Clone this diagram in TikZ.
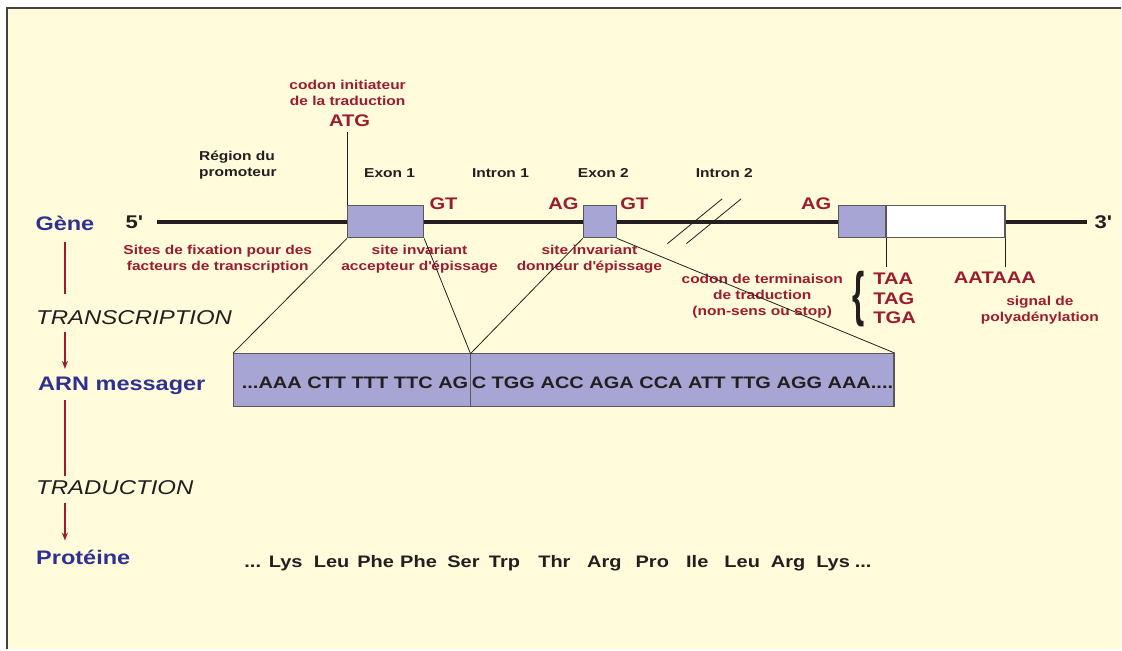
\documentclass[tikz,border=0pt]{standalone}
\usepackage{fontspec}
\setmainfont{Liberation Sans}[FakeStretch=1.2]
\usepackage{xcolor}
\usepackage{graphicx}
\definecolor{cream}{HTML}{FFFBDB}
\definecolor{lilac}{HTML}{A6A5D3}
\definecolor{wine}{HTML}{9B1B2F}
\definecolor{navy}{HTML}{2E3192}
\definecolor{ink}{HTML}{231F20}
\usepackage{tikz}
\usetikzlibrary{arrows.meta, positioning, calc}
\newcommand{\apos}{\textquotesingle}

\begin{document}
\begin{tikzpicture}[x=0.75pt, y=-0.75pt, >={Stealth[length=6pt, width=4.5pt]},
  every node/.style={inner sep=0pt},
  note/.style={font=\fontsize{9.7}{12}\selectfont\bfseries, text=ink, align=center},
  site/.style={font=\fontsize{9.7}{12}\selectfont\bfseries, text=wine, align=center},
  motif/.style={font=\fontsize{12.6}{14}\selectfont\bfseries, text=wine},
  stage/.style={font=\fontsize{14.7}{16}\selectfont\bfseries, text=navy},
  process/.style={font=\fontsize{15}{16}\selectfont\itshape, text=ink, anchor=west},
  seq/.style={font=\fontsize{12.5}{14}\selectfont\bfseries, text=ink},
  strand/.style={font=\fontsize{13.8}{14}\selectfont\bfseries, text=ink},
  exon/.style={draw=ink!75, fill=lilac, line width=0.9pt, minimum height=24pt},
  cut/.style={draw=ink, line width=0.6pt},
  flow/.style={draw=wine, line width=0.9pt}]

  % Cadre
  \fill[white] (0,0) rectangle (1122,650);
  \fill[cream] (7,8) rectangle (1122,650);
  \draw[ink!85, line width=1.8pt] (7,650) -- (7,8) -- (1122,8);
  \useasboundingbox (0,0) rectangle (1122,650);

  % Gène
  \node[strand] (five)  at (134,222) {5\apos};
  \node[strand] (three) at (1104,222) {3\apos};
  \draw[ink, line width=3pt, shorten <=11pt, shorten >=5.5pt] (five.east) -- (three.west);
  \draw[cut] (668,244) -- (723,199);
  \draw[cut] (687,244) -- (742,199);

  \node[exon, minimum width=57pt]    (exon1) at (386,222)   {};
  \node[exon, minimum width=24.75pt] (exon2) at (600.5,222) {};
  \node[exon, minimum width=36pt]    (exon3) at (863,222)   {};
  \node[exon, fill=white, minimum width=89.25pt] (utr) at (946.5,222) {};

  \node[site]  (init) at (348,93)  {codon initiateur\\de la traduction};
  \node[motif] (atg)  at (350,121) {ATG};
  \draw[cut, shorten >=4pt] (exon1.north west) -- (exon1.north west |- atg.south);

  \node[note, align=left, anchor=west] (promo) at (199,165) {Région du\\promoteur};
  \node[note] (ex1) at (390,173) {Exon 1};
  \node[note] (in1) at (501,173) {Intron 1};
  \node[note] (ex2) at (604,173) {Exon 2};
  \node[note] (in2) at (725,173) {Intron 2};
  \node[motif] (gt1) at (444,204) {GT};
  \node[motif] (ag1) at (564,204) {AG};
  \node[motif] (gt2) at (635,204) {GT};
  \node[motif] (ag2) at (817,204) {AG};

  \node[site] (fix)  at (218,259) {Sites de fixation pour des\\facteurs de transcription};
  \node[site] (acc)  at (420,259) {site invariant\\accepteur d\apos épissage};
  \node[site] (don)  at (590,259) {site invariant\\donneur d\apos épissage};
  \node[site] (term) at (763,296) {codon de terminaison\\de traduction\\(non-sens ou stop)};

  \node[motif, anchor=west] (taa) at (874,279) {TAA};
  \node[motif, anchor=west] (tag) at (874,299) {TAG};
  \node[motif, anchor=west] (tga) at (874,318) {TGA};
  \node[font=\fontsize{14}{14}\selectfont\bfseries, text=ink] (brace) at (860,299)
    {\scalebox{1.4}[3.2]{\{}};
  \draw[cut, shorten >=4pt] (exon3.south east) -- (exon3.south east |- taa.north);

  \node[motif] (aataaa) at (996,278)  {AATAAA};
  \node[site]  (polya)  at (1041,310) {signal de\\polyadénylation};
  \draw[cut, shorten >=3.4pt] (utr.south east) -- (utr.south east |- aataaa.north);

  % ARN messager
  \node[exon, minimum width=495.75pt, minimum height=39.75pt] (mrna) at (564.5,380.5) {};
  \coordinate (splice) at (471,354);
  \draw[draw=ink!75, line width=0.9pt] (splice) -- (splice |- mrna.south);
  \node[seq, anchor=east] (codl) at (469,383) {...AAA CTT TTT TTC AG};
  \node[seq, anchor=west] (codr) at (472,383) {C TGG ACC AGA CCA ATT TTG AGG AAA....};

  \draw[cut] (exon1.south west) -- (mrna.north west);
  \draw[cut] (exon1.south east) -- (splice);
  \draw[cut] (exon2.south west) -- (splice);
  \draw[cut] (exon2.south east) -- (mrna.north east);

  % Protéine
  \node[seq, anchor=base] (dotl) at (253,568) {...};
  \foreach \aa/\px in {Lys/286, Leu/332, Phe/376, Phe/419, Ser/464, Trp/505, Thr/555,
                       Arg/605, Pro/653, Ile/698, Leu/743, Arg/789, Lys/834}
    \node[seq, anchor=base] (aa\px) at (\px,568) {\aa};
  \node[seq, anchor=base] (dotr) at (864,568) {...};

  % Flux
  \node[stage] (gene) at (65,224) {Gène};
  \node[process] (transcr) at (36,318) {TRANSCRIPTION};
  \node[stage, anchor=base west] (arn) at (38,390.5) {ARN messager};
  \node[process] (tradu) at (36,488) {TRADUCTION};
  \node[stage, anchor=west] (prot) at (36,558) {Protéine};

  \draw[flow, shorten <=8pt, shorten >=12pt] (gene.south) -- (gene.south |- transcr.north);
  \draw[flow, ->, shorten <=5pt, shorten >=5.6pt] (gene.south |- transcr.south) -- (gene.south |- arn.north);
  \draw[flow, shorten <=4.2pt, shorten >=3pt] (gene.south |- arn.south) -- (gene.south |- tradu.north);
  \draw[flow, ->, shorten <=6pt, shorten >=7pt] (gene.south |- tradu.south) -- (gene.south |- prot.north);

\end{tikzpicture}
\end{document}
